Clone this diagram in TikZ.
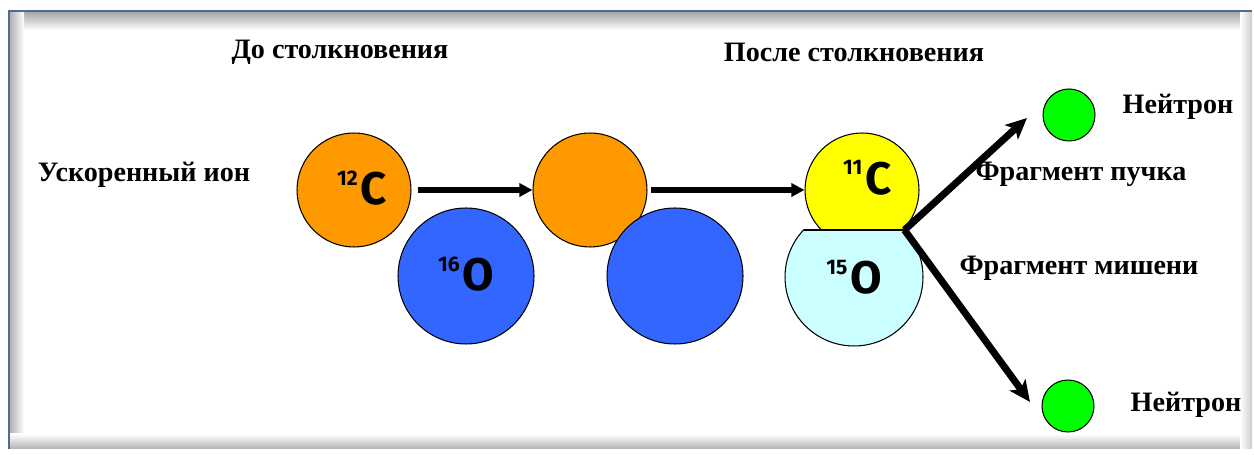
\documentclass[tikz,border=0pt]{standalone}
\usepackage{fontspec}
\setmainfont{Liberation Serif}
\newfontfamily\nuclfont{Fira Sans}
\usetikzlibrary{arrows.meta}
\definecolor{ionorange}{RGB}{255,153,0}
\definecolor{ionblue}{RGB}{51,102,255}
\definecolor{fragyellow}{RGB}{255,255,0}
\definecolor{fragcyan}{RGB}{204,255,255}
\definecolor{neutgreen}{RGB}{0,255,0}
\definecolor{framecol}{RGB}{79,107,150}
\newcommand{\nucl}[2]{{\nuclfont\bfseries\raisebox{11pt}{\fontsize{12}{12}\selectfont #1}\kern1.5pt\fontsize{26}{26}\selectfont #2}}
\tikzset{
  ball/.style    ={draw, circle, inner sep=0pt, line width=0.6pt},
  smallball/.style={ball, minimum size=2.28cm},
  bigball/.style ={ball, minimum size=2.72cm},
  neutron/.style ={ball, fill=neutgreen, minimum size=1.04cm},
  lbl/.style     ={font=\fontsize{16}{19}\selectfont\bfseries, inner sep=0pt},
  flow/.style    ={-{Triangle[length=7.5pt, width=7.5pt]}, line width=3.6pt},
  flowdiag/.style={-{Stealth[length=12pt, width=11pt, inset=3pt]}, line width=4pt},
}
\begin{document}
\begin{tikzpicture}[x=0.02cm, y=-0.02cm]
  \useasboundingbox (0,0) rectangle (1254,455);
  % frame
  \fill[white] (9,11) rectangle (1252,449);
  \shade[top color=black!35, bottom color=white] (10,12) rectangle (1251,30);
  \shade[left color=black!30, right color=white] (10,12) rectangle (24,448);
  \shade[top color=white, bottom color=black!30] (10,434) rectangle (1251,449);
  \shade[left color=white, right color=black!20] (1240,12) rectangle (1252,449);
  \draw[framecol, line width=1.4pt] (9,449) -- (9,11) -- (1252,11);
  % titles
  \node[lbl] (before) at (340,52) {До столкновения};
  \node[lbl] (after)  at (854,52) {После столкновения};
  \node[lbl] (ion)    at (144,175) {Ускоренный ион};
  % before collision
  \node[smallball, fill=ionorange, label={[xshift=4.5pt, yshift=1pt]center:\nucl{12}{C}}] (c12) at (354,190) {};
  \node[bigball, fill=ionblue, label={[yshift=1pt]center:\nucl{16}{O}}] (o16) at (466,276) {};
  % collision
  \node[smallball, fill=ionorange] (c12b) at (590,190) {};
  \node[bigball, fill=ionblue] (o16b) at (675,276) {};
  % after collision
  \node[smallball, fill=fragyellow, label={[xshift=3pt, yshift=7pt]center:\nucl{11}{C}}] (c11) at (862,190) {};
  \begin{scope}
    \clip (770,230) rectangle (940,360);
    \node[ball, minimum size=2.76cm, fill=fragcyan, label={center:\nucl{15}{O}}] (o15) at (854,277) {};
  \end{scope}
  \coordinate (chord) at (803.5,230);
  \coordinate (split) at (904.5,230);
  \draw[line width=0.8pt] (chord) -- (split);
  \draw[flow, shorten <=3.5pt] (c12.east) -- (c12b.west);
  \draw[flow, shorten <=2pt] (c12b.east) -- (c11.west);
  % fragments
  \node[neutron] (n1) at (1069,115) {};
  \node[neutron] (n2) at (1068,406) {};
  \coordinate (tip1) at (1027,118);
  \coordinate (tip2) at (1030,402);
  \draw[flowdiag] (split) -- (tip1);
  \draw[flowdiag] (split) -- (tip2);
  \node[lbl] (neut1) at (1178,107) {Нейтрон};
  \node[lbl] (neut2) at (1186,405) {Нейтрон};
  \node[lbl] (beam)  at (1081,174) {Фрагмент пучка};
  \node[lbl] (targ)  at (1079,268) {Фрагмент мишени};
\end{tikzpicture}
\end{document}
